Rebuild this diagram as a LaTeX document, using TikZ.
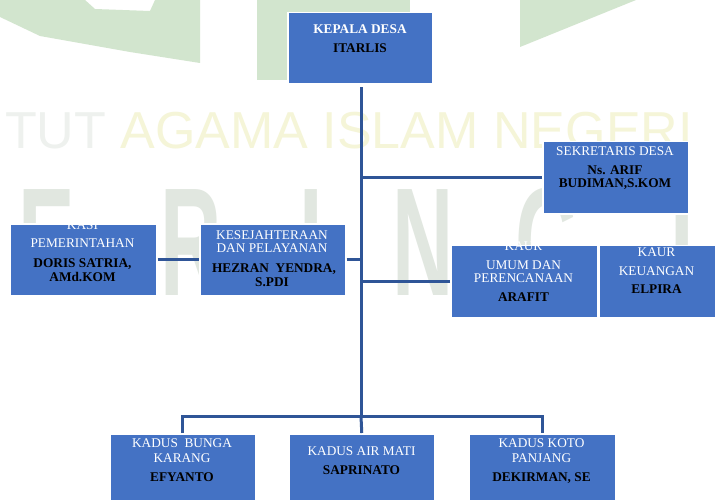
\documentclass[tikz,border=0pt]{standalone}
\usepackage{fontspec}
\setmainfont{Liberation Serif}
\newfontfamily\wmfont{Liberation Sans}
\definecolor{boxblue}{HTML}{4472C4}
\definecolor{linkblue}{HTML}{2F5597}
\definecolor{wmgreen}{HTML}{D2E5CE}
\definecolor{wmgray}{HTML}{EEF1EE}
\definecolor{wmletter}{HTML}{E1E7E0}
\definecolor{wmyellow}{HTML}{F5F5D8}
\begin{document}
\begin{tikzpicture}[x=1bp,y=-1bp,
  box/.style 2 args={fill=boxblue, draw=white, line width=1.5bp, inner sep=0pt,
    anchor=north west, minimum width=#1bp, minimum height=#2bp},
  link/.style={draw=linkblue, line width=3bp},
  tw/.style={text=white, font=\fontsize{13.3bp}{14bp}\selectfont, inner sep=0pt, anchor=base},
  twb/.style={text=white, font=\fontsize{13.3bp}{14bp}\selectfont\bfseries, inner sep=0pt, anchor=base},
  tb/.style={text=black, font=\fontsize{13.3bp}{14bp}\selectfont\bfseries, inner sep=0pt, anchor=base},
  wmline/.style={font=\wmfont\fontsize{52bp}{52bp}\selectfont, inner sep=0pt, anchor=base west},
  wmbig/.style={text=wmletter, font=\wmfont\bfseries\fontsize{154bp}{154bp}\selectfont, inner sep=0pt, anchor=base west, xscale=0.55}
]
\useasboundingbox (0,0) rectangle (715,500);
\fill[white] (0,0) rectangle (715,500);

% ---- faint watermark ----
\fill[wmgreen] (0,0) -- (85,0) -- (95,9) -- (150,11) -- (155,0) -- (200,0) -- (200,63)
   -- (130,52) -- (40,36) -- (0,17) -- cycle;
\fill[wmgreen] (257,0) rectangle (410,80);
\fill[wmgreen] (520,0) -- (636,0) -- (520,47) -- cycle;
\node[wmline] (wmtext) at (-128,149) {{\color{wmgray}INSTITUT} {\color{wmyellow}AGAMA ISLAM NEGERI}};
\node[wmbig] (wmE) at (18,295) {E};
\node[wmbig] (wmR) at (160,295) {R};
\node[wmbig] (wmI) at (299,295) {I};
\node[wmbig] (wmN) at (392,295) {N};
\node[wmbig] (wmC) at (515,295) {C};
\node[wmbig] (wmII) at (670,295) {I};

% ---- boxes ----
\node[box={145}{71}] (kd) at (287,12) {};
\node[box={146}{72}] (sek) at (542,141) {};
\node[box={147}{71}] (kasi) at (9,223.5) {};
\node[box={146}{71}] (kes) at (199,223.5) {};
\node[box={147}{72}] (ku) at (450,245) {};
\node[box={119}{72}] (kk) at (598,245) {};
\node[box={146}{70}] (b1) at (109,433) {};
\node[box={146}{70}] (b2) at (288,433) {};
\node[box={147}{70}] (b3) at (468,433) {};

% ---- connectors ----
\coordinate (jt) at (361,416);
\draw[link, shorten <=3bp] (kd.south -| jt) -- (jt);
\draw[link] (sek.west) -- (sek.west -| jt);
\draw[link] (ku.west) -- (ku.west -| jt);
\draw[link] (kes.east) -- (kes.east -| jt);
\draw[link] (kasi.east) -- (kes.west);
\draw[link] (b1.north) |- (jt) -| (b3.north);
\draw[link] (jt) -- (b2.north);

% ---- texts ----
\node[twb] (kdA) at (360,33.4) {KEPALA DESA};
\node[tb]  (kdB) at (360,52.4) {ITARLIS};

\node[tw] (sekA) at (615,155.4) {SEKRETARIS DESA};
\node[tb] (sekB) at (615,174.4) {Ns. ARIF};
\node[tb] (sekC) at (615,187.4) {BUDIMAN,S.KOM};

\node[tw] (kasiA) at (82.5,229.4) {KASI};
\node[tw] (kasiB) at (82.5,247.4) {PEMERINTAHAN};
\node[tb] (kasiC) at (82.5,267.4) {DORIS SATRIA,};
\node[tb] (kasiD) at (82.5,281.4) {AMd.KOM};

\node[tw] (kesA) at (272,239.4) {KESEJAHTERAAN};
\node[tw] (kesB) at (272,252.4) {DAN PELAYANAN};
\node[tb] (kesC) at (274,272.4) {HEZRAN\ \ YENDRA,};
\node[tb] (kesD) at (272,286.4) {S.PDI};

\node[tw] (kuA) at (523.5,250.4) {KAUR};
\node[tw] (kuB) at (523.5,269.4) {UMUM DAN};
\node[tw] (kuC) at (523.5,282.4) {PERENCANAAN};
\node[tb] (kuD) at (523.5,301.4) {ARAFIT};

\node[tw] (kkA) at (656.5,256.4) {KAUR};
\node[tw] (kkB) at (656.5,275.4) {KEUANGAN};
\node[tb] (kkC) at (656.5,293.4) {ELPIRA};

\node[tw] (b1A) at (182,447.4) {KADUS\ \ BUNGA};
\node[tw] (b1B) at (182,462.4) {KARANG};
\node[tb] (b1C) at (182,481.4) {EFYANTO};

\node[tw] (b2A) at (361.5,455.4) {KADUS AIR MATI};
\node[tb] (b2B) at (361.5,474.4) {SAPRINATO};

\node[tw] (b3A) at (541.5,447.4) {KADUS KOTO};
\node[tw] (b3B) at (541.5,462.4) {PANJANG};
\node[tb] (b3C) at (541.5,481.4) {DEKIRMAN, SE};
\end{tikzpicture}
\end{document}
